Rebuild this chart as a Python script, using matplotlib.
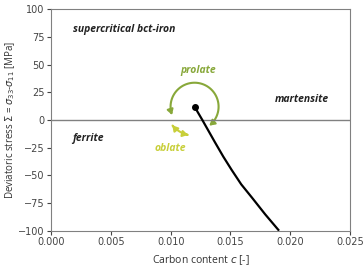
import numpy as np
import matplotlib.pyplot as plt
from matplotlib.patches import FancyArrowPatch
from matplotlib.path import Path

# curve
carbon = [0.0120, 0.01265, 0.0137, 0.0144, 0.0151, 0.0159, 0.0168, 0.0179, 0.0190]
stress = [12, 0, -20, -33, -45, -58, -70, -85, -99]

xticks = [0.000, 0.005, 0.010, 0.015, 0.020, 0.025]
yticks = [-100, -75, -50, -25, 0, 25, 50, 75, 100]

fig = plt.figure(figsize=(3.63, 2.67), dpi=100)
ax = fig.add_axes([0.1405, 0.135, 0.824, 0.831])

ax.set_xlim(0, 0.025)
ax.set_ylim(-100, 100)
ax.axhline(0, color="#808080", lw=1.0)
ax.plot(carbon, stress, color="black", lw=1.6)
ax.plot(carbon[0], stress[0], "o", color="black", ms=4)

# arcs around the dot (radius in pixels, converted to data units)
px_x = 0.025 / 299
px_y = 200 / 222
def arc(r, a0, a1):
    t = np.radians(np.linspace(a0, a1, 60))
    return np.column_stack([carbon[0] + r * np.cos(t) * px_x, stress[0] + r * np.sin(t) * px_y])

for pts, col in [(arc(24, 200, -52), "#88a83a"), (arc(29, 220, 257), "#c8cf3a")]:
    p = FancyArrowPatch(path=Path(pts), arrowstyle="<|-|>,head_length=3,head_width=1.8",
                        color=col, lw=1.5)
    ax.add_patch(p)

txt = dict(fontsize=7.5, fontweight="bold", fontstyle="italic", family="Open Sans")
ax.text(0.0018, 79, "supercritical bct-iron", color="#222222", **txt)
ax.text(0.0187, 16, "martensite", color="#222222", **txt)
ax.text(0.0018, -19, "ferrite", color="#222222", **txt)
ax.text(0.0123, 42, "prolate", color="#88a83a", ha="center", **txt)
ax.text(0.0100, -28, "oblate", color="#c8cf3a", ha="center", **txt)

ax.set_xticks(xticks)
ax.set_xticklabels([f"{v:.3f}" for v in xticks])
ax.set_yticks(yticks)
ax.tick_params(labelsize=7, colors="#444444", length=3, width=0.8, pad=1.5)
for s in ax.spines.values():
    s.set_color("#808080")

ax.set_xlabel("Carbon content $c$ [-]", fontsize=7.5, color="#333333", family="Open Sans",
              labelpad=4)
ax.set_ylabel("Deviatoric stress $\\Sigma$ = $\\sigma_{33}$-$\\sigma_{11}$ [MPa]", fontsize=7,
              color="#333333", family="Open Sans", labelpad=1)

plt.savefig("out.png", dpi=100)
